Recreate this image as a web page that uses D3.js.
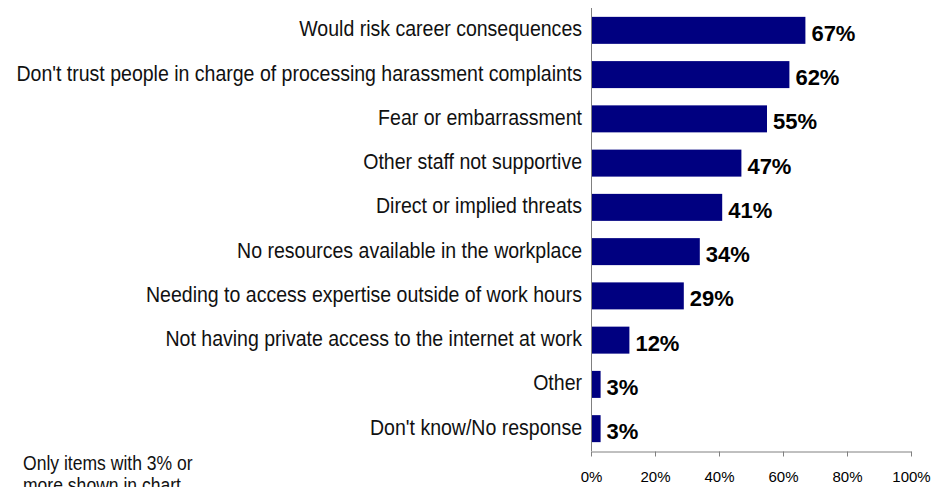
<!DOCTYPE html>
<html>
<head>
<meta charset="utf-8">
<script src="https://cdn.jsdelivr.net/npm/d3@7"></script>
<style>
  html, body { margin: 0; padding: 0; background: #fff; }
  svg { display: block; }
</style>
</head>
<body>
<svg id="chart" width="933" height="487"></svg>
<script>
// Reasons for not reporting, share of respondents
const categories = [
  "Would risk career consequences",
  "Don't trust people in charge of processing harassment complaints",
  "Fear or embarrassment",
  "Other staff not supportive",
  "Direct or implied threats",
  "No resources available in the workplace",
  "Needing to access expertise outside of work hours",
  "Not having private access to the internet at work",
  "Other",
  "Don't know/No response"
];
const values = [67, 62, 55, 47, 41, 34, 29, 12, 3, 3];
const tickValues = [0, 20, 40, 60, 80, 100];
const noteLines = ["Only items with 3% or", "more shown in chart"];

const svg = d3.select("#chart");
const plotLeft = 591, plotRight = 911, plotTop = 8, plotBottom = 451;
const condense = 0.9; // labels use a slightly condensed face

const x = d3.scaleLinear().domain([0, 100]).range([plotLeft, plotRight]);
const y = d3.scaleBand().domain(categories).range([plotTop, plotBottom]).paddingInner(0.39).paddingOuter(0.2);

// bars
svg.append("g").selectAll("rect")
  .data(categories)
  .join("rect")
  .attr("x", x(0))
  .attr("y", d => y(d))
  .attr("width", (d, i) => x(values[i]) - x(0))
  .attr("height", y.bandwidth())
  .attr("fill", "#000080");

// value labels
svg.append("g").selectAll("text")
  .data(categories)
  .join("text")
  .attr("x", (d, i) => x(values[i]) + 6)
  .attr("y", d => y(d) + y.bandwidth() / 2 + 10.5)
  .attr("font-family", "'Liberation Sans', Arial, sans-serif")
  .attr("font-weight", "bold")
  .attr("font-size", 22)
  .attr("fill", "#000")
  .text((d, i) => values[i] + "%");

// category labels
svg.append("g").selectAll("text")
  .data(categories)
  .join("text")
  .attr("transform", d => `translate(${plotLeft - 9},${y(d) + y.bandwidth() / 2 + 6}) scale(${condense},1)`)
  .attr("text-anchor", "end")
  .attr("font-family", "'Liberation Sans', Arial, sans-serif")
  .attr("font-size", 21.7)
  .attr("fill", "#111")
  .text(d => d);

// x axis
const xAxis = d3.axisBottom(x)
  .tickValues(tickValues)
  .tickSize(5)
  .tickSizeOuter(0)
  .tickFormat(d => d + "%");
const gx = svg.append("g").attr("transform", `translate(0,${plotBottom + 0.5})`).call(xAxis);
gx.select(".domain").attr("stroke", "#808080");
gx.selectAll(".tick line").attr("stroke", "#808080");
gx.selectAll(".tick text")
  .attr("y", 20)
  .attr("dy", "0.71em")
  .attr("font-family", "'Liberation Sans', Arial, sans-serif")
  .attr("font-size", 15)
  .attr("fill", "#000");

// vertical axis line
svg.append("line")
  .attr("x1", plotLeft + 0.5).attr("x2", plotLeft + 0.5)
  .attr("y1", plotTop).attr("y2", plotBottom)
  .attr("stroke", "#808080");

// footnote
svg.append("text")
  .attr("transform", `translate(23,470) scale(${condense},1)`)
  .attr("font-family", "'Liberation Sans', Arial, sans-serif")
  .attr("font-size", 19.5)
  .attr("fill", "#111")
  .selectAll("tspan")
  .data(noteLines)
  .join("tspan")
  .attr("x", 0)
  .attr("dy", (d, i) => i === 0 ? 0 : 22)
  .text(d => d);
</script>
</body>
</html>
